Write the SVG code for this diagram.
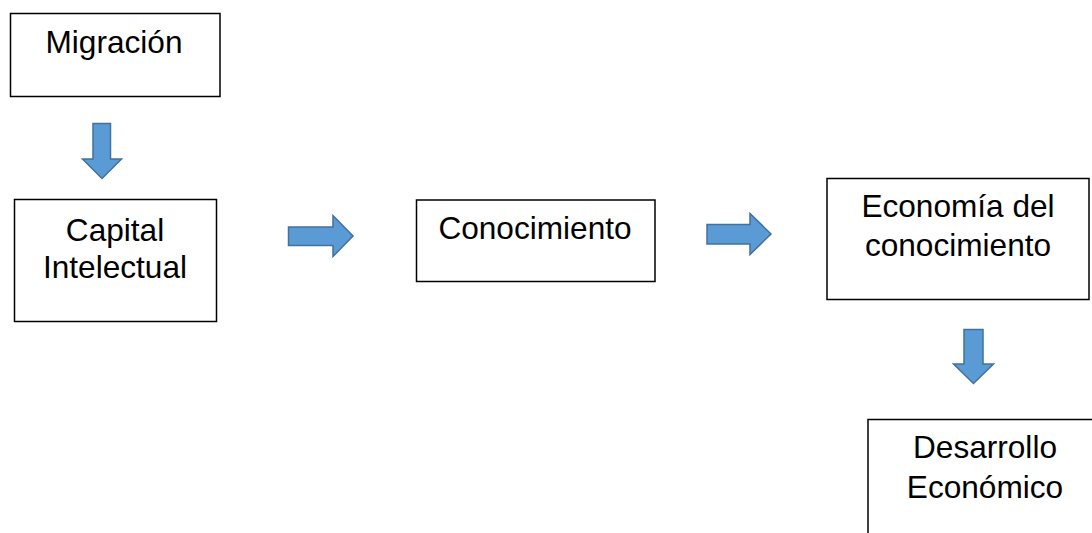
<svg xmlns="http://www.w3.org/2000/svg" width="1092" height="533" viewBox="0 0 1092 533">
<style>
.box{fill:#fff;stroke:#000;stroke-width:1.5}
.lbl{font-family:"Liberation Sans",Arial,sans-serif;font-size:31.6px;fill:#000;text-anchor:middle}
.arr{fill:#5B9BD5;stroke:#41719C;stroke-width:1.5;stroke-linejoin:miter}
</style>
<rect width="1092" height="533" fill="#fff"/>
<g id="connectors">
<polygon class="arr" points="93,123.5 110.5,123.5 110.5,159 121.5,159 102,178.5 82.5,159 93,159"/>
<polygon class="arr" points="288.5,227 333,227 333,215.5 353,236 333,256.5 333,245.5 288.5,245.5"/>
<polygon class="arr" points="707,224.5 750,224.5 750,213.5 771,234 750,254.5 750,244 707,244"/>
<polygon class="arr" points="964,329.5 983,329.5 983,364 993.5,364 973.5,383.5 953.5,364 964,364"/>
</g>
<g id="node-migracion">
<rect class="box" x="10.5" y="13.5" width="209.5" height="83"/>
<text class="lbl" x="114" y="53">Migración</text>
</g>
<g id="node-capital">
<rect class="box" x="14.5" y="199.5" width="202" height="122"/>
<text class="lbl" x="115" y="241">Capital</text>
<text class="lbl" x="115" y="278">Intelectual</text>
</g>
<g id="node-conocimiento">
<rect class="box" x="416.5" y="200" width="238.5" height="81.5"/>
<text class="lbl" x="535" y="239">Conocimiento</text>
</g>
<g id="node-economia">
<rect class="box" x="827" y="178.5" width="262" height="121"/>
<text class="lbl" x="958" y="217">Economía del</text>
<text class="lbl" x="958" y="256">conocimiento</text>
</g>
<g id="node-desarrollo">
<rect class="box" x="868" y="419.5" width="240" height="130"/>
<text class="lbl" x="985" y="458">Desarrollo</text>
<text class="lbl" x="985" y="498">Económico</text>
</g>
</svg>
